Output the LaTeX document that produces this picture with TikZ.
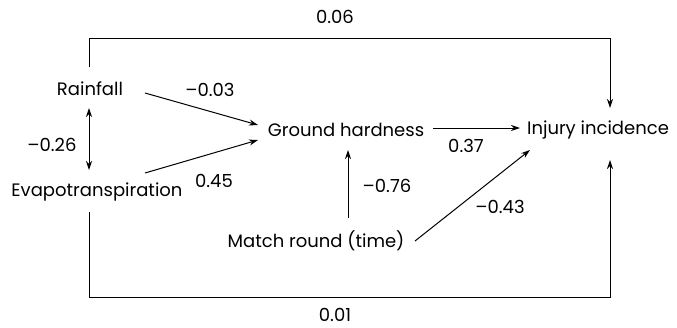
\documentclass[tikz,border=0pt]{standalone}
\usepackage{fontspec}
\setmainfont{Poppins}
\usetikzlibrary{arrows.meta}
\begin{document}
\begin{tikzpicture}[x=1pt,y=-1pt,
  lbl/.style={inner sep=0pt,font=\fontsize{18}{21}\selectfont},
  coef/.style={inner sep=0pt,font=\fontsize{18}{21}\selectfont},
  conn/.style={line width=1pt},
  arr/.style={conn,-{Stealth[length=9pt,width=6pt]}},
  darr/.style={conn,{Stealth[length=9pt,width=6pt]}-{Stealth[length=9pt,width=6pt]}}]
\useasboundingbox (0,0) rectangle (677,327);
\node[lbl] (rain) at (90,89) {Rainfall};
\node[lbl] (evap) at (97,192) {Evapotranspiration};
\node[lbl] (gh) at (346,130) {Ground hardness};
\node[lbl] (inj) at (598,130) {Injury incidence};
\node[lbl] (match) at (316,241) {Match round (time)};
\coordinate (topL) at (89,38);
\coordinate (botL) at (89,297);
% connectors
\draw[arr] ([shift={(-1,-22)}]rain.center) -- (topL) -| ([shift={(12,-22)}]inj.center);
\draw[arr] ([shift={(-8,20)}]evap.center) -- (botL) -| ([shift={(12,30)}]inj.center);
\draw[darr] ([shift={(-1,19)}]rain.center) -- ([shift={(-8,-22)}]evap.center);
\draw[arr] ([shift={(55,4)}]rain.center) -- ([shift={(-88,-5)}]gh.center);
\draw[arr] ([shift={(48,-19)}]evap.center) -- ([shift={(-88,10)}]gh.center);
\draw[arr] ([shift={(87,-2)}]gh.center) -- ([shift={(-78,-2)}]inj.center);
\draw[arr] ([shift={(32,-23)}]match.center) -- ([shift={(2,20)}]gh.center);
\draw[arr] ([shift={(99,0)}]match.center) -- ([shift={(-68,20)}]inj.center);
% coefficients
\node[coef] (c1) at (335,17) {0.06};
\node[coef] (c2) at (335,315) {0.01};
\node[coef] (c3) at (52,145) {–0.26};
\node[coef] (c4) at (210,90) {–0.03};
\node[coef] (c5) at (214,181) {0.45};
\node[coef] (c6) at (466,146) {0.37};
\node[coef] (c7) at (387,186) {–0.76};
\node[coef] (c8) at (500,207) {–0.43};
\end{tikzpicture}
\end{document}
